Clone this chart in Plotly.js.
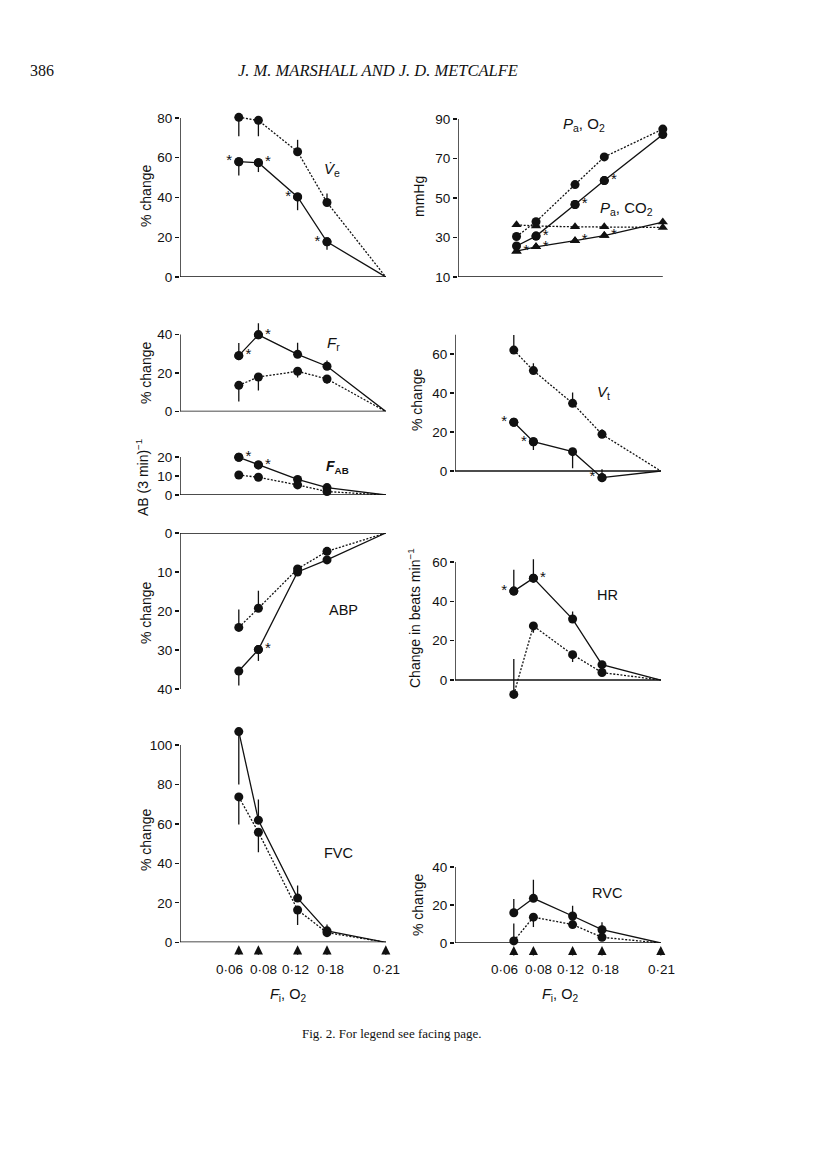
<!DOCTYPE html>
<html><head><meta charset="utf-8">
<script src="https://cdn.plot.ly/plotly-3.0.1.min.js"></script>
<style>body{margin:0;background:#fff}#chart{width:816px;height:1169px}</style>
</head><body><div id="chart"></div>
<script>
// ---------- DATA ----------
const fio2Labels = ['0·06','0·08','0·12','0·18','0·21'];
const fio2Pos = [0.06, 0.08, 0.12, 0.15, 0.21];

// Ve (% change)
const veSolid = [58, 57.5, 40.3, 17.7, 0];
const veSolidErr = [-7, -4.7, -6.7, -4, 0];
const veSolidSig = ['L','R','L','L',''];
const veDotted = [80.3, 78.8, 63, 37.5, 0];
const veDottedErr = [-9.5, -8, 6, 4.5, 0];

// Pa,O2 and Pa,CO2 (mmHg)
const paO2Solid = [25.7, 30.7, 46.7, 58.8, 82.1];
const paO2SolidSig = ['','R','R','R',''];
const paO2Dotted = [30.5, 38, 56.8, 70.8, 84.9];
const paCO2Solid = [23.1, 25.3, 28.4, 31, 37.8];
const paCO2SolidSig = ['R','R','R','R',''];
const paCO2Dotted = [36.4, 35.8, 35.4, 35.4, 35.1];

// Fr (% change)
const frSolid = [29, 39.8, 29.7, 23.5, 0];
const frSolidErr = [6.6, 6, 6, 3, 0];
const frSolidSig = ['R','R','','',''];
const frDotted = [13.6, 17.9, 20.9, 16.9, 0];
const frDottedErr = [-8.4, -7, -3.2, -2.5, 0];

// FAB (AB (3 min)-1)
const fabSolid = [19.8, 15.8, 8.2, 3.9, 0];
const fabSolidSig = ['R','R','','',''];
const fabDotted = [10.5, 9.3, 5.3, 1.8, 0];

// ABP (% change, fall)
const abpSolid = [35.4, 29.9, 10, 6.9, 0];
const abpSolidErr = [3.7, 2.9, 0, 0, 0];
const abpSolidSig = ['','R','','',''];
const abpDotted = [24.2, 19.3, 9.2, 4.7, 0];
const abpDottedErr = [-4.6, -4.5, -1, 0, 0];

// Vt (% change)
const vtSolid = [25, 15, 9.9, -3.4, 0];
const vtSolidErr = [0, -4.2, -8.5, 4.3, 0];
const vtSolidSig = ['L','L','','L',''];
const vtDotted = [62, 51.5, 34.7, 18.8, 0];
const vtDottedErr = [7.7, 3.7, 5.6, 2.6, 0];

// HR (change in beats/min)
const hrSolid = [45.2, 51.8, 31, 7.8, 0];
const hrSolidErr = [10.8, 9.6, 3.8, 0, 0];
const hrSolidSig = ['L','R','','',''];
const hrDotted = [-7.3, 27.5, 12.9, 3.8, 0];
const hrDottedErr = [18, -3.5, -3.7, -1.7, 0];

// FVC (% change)
const fvcSolid = [106.8, 61.9, 22.4, 5.8, 0];
const fvcSolidErr = [-26.8, 10.5, 6.4, 3.2, 0];
const fvcDotted = [73.7, 55.8, 16.4, 4.9, 0];
const fvcDottedErr = [-14, -10.2, -7.6, 0, 0];

// RVC (% change)
const rvcSolid = [15.9, 23.5, 14.2, 7, 0];
const rvcSolidErr = [7.2, 9.8, 5.4, 3.9, 0];
const rvcDotted = [1.1, 13.6, 9.7, 3, 0];
const rvcDottedErr = [9.1, -5.2, 0, 0, 0];

// ---------- LAYOUT HELPERS ----------
const W = 816, H = 1169;
const FONT = 'Liberation Sans, Arial, sans-serif';
const SERIF = 'Liberation Serif, Times New Roman, serif';
const INK = '#111111';
const px = x => x / W;
const py = y => 1 - y / H;
const labelShift = [-9, 5, -2, 3, 1];   // horizontal nudge (px) of the FiO2 labels

const colL = [180, 386], colR = [455, 661];

const panels = [
  {n:1, xPx:colL, yPx:[112,277], range:[0,83], tv:[0,20,40,60,80], axisY:[0,80], xLine:0,
   series:[{y:veSolid, err:veSolidErr, sig:veSolidSig, dash:'solid'},
           {y:veDotted, err:veDottedErr, dash:'dot'}]},
  {n:2, xPx:[458,663], yPx:[119,277], range:[10,90], tv:[10,30,50,70,90], axisY:[10,90], xLine:10,
   series:[{y:paO2Solid, sig:paO2SolidSig, dash:'solid', end:true},
           {y:paO2Dotted, dash:'dot', end:true},
           {y:paCO2Solid, sig:paCO2SolidSig, dash:'solid', end:true, sym:'triangle-up'},
           {y:paCO2Dotted, dash:'dot', end:true, sym:'triangle-up'}]},
  {n:3, xPx:colL, yPx:[321,411.5], range:[0,47], tv:[0,20,40], axisY:[0,40], xLine:0,
   series:[{y:frSolid, err:frSolidErr, sig:frSolidSig, dash:'solid'},
           {y:frDotted, err:frDottedErr, dash:'dot'}]},
  {n:4, xPx:colL, yPx:[455,495], range:[0,21], tv:[0,10,20], axisY:[0,20], xLine:0,
   series:[{y:fabSolid, sig:fabSolidSig, dash:'solid'},
           {y:fabDotted, dash:'dot'}]},
  {n:5, xPx:colL, yPx:[533,689], range:[40,0], tv:[0,10,20,30,40], axisY:[0,40], xLine:0,
   series:[{y:abpSolid, err:abpSolidErr, sig:abpSolidSig, dash:'solid'},
           {y:abpDotted, err:abpDottedErr, dash:'dot'}]},
  {n:6, xPx:colR, yPx:[334.5,480.75], range:[-5,70], tv:[0,20,40,60], axisY:[0,70], xLine:0,
   series:[{y:vtSolid, err:vtSolidErr, sig:vtSolidSig, dash:'solid'},
           {y:vtDotted, err:vtDottedErr, dash:'dot'}]},
  {n:7, xPx:colR, yPx:[556.1,699.7], range:[-10,63], tv:[0,20,40,60], axisY:[0,60], xLine:0,
   series:[{y:hrSolid, err:hrSolidErr, sig:hrSolidSig, dash:'solid'},
           {y:hrDotted, err:hrDottedErr, dash:'dot'}]},
  {n:8, xPx:colL, yPx:[725.3,942.3], range:[0,110], tv:[0,20,40,60,80,100], axisY:[0,100], xLine:0, showX:true,
   series:[{y:fvcSolid, err:fvcSolidErr, dash:'solid'},
           {y:fvcDotted, err:fvcDottedErr, dash:'dot'}]},
  {n:9, xPx:colR, yPx:[867,943], range:[0,40], tv:[0,20,40], axisY:[0,40], xLine:0, showX:true,
   series:[{y:rvcSolid, err:rvcSolidErr, dash:'solid'},
           {y:rvcDotted, err:rvcDottedErr, dash:'dot'}]}
];

const traces = [], shapes = [], annotations = [];
const layout = {
  width: W, height: H, margin:{l:0,r:0,t:0,b:0},
  paper_bgcolor:'#fff', plot_bgcolor:'rgba(0,0,0,0)',
  font:{family:FONT, color:INK, size:13}, showlegend:false
};

panels.forEach(p => {
  const xa = 'x' + p.n, ya = 'y' + p.n;
  const xk = 'xaxis' + p.n, yk = 'yaxis' + p.n;
  layout[xk] = {
    domain:[px(p.xPx[0]), px(p.xPx[1])], range:[0, 0.2102], anchor: ya,
    showline:false, zeroline:false, showgrid:false, ticks:'',
    showticklabels:false, fixedrange:true
  };
  layout[yk] = {
    domain:[py(p.yPx[1]), py(p.yPx[0])], range: p.range, anchor: xa,
    showline:false, zeroline:false, showgrid:false,
    ticks:'outside', ticklen:4, tickwidth:1.3, tickcolor:INK,
    tickvals: p.tv, ticktext: p.tv.map(String),
    tickfont:{family:FONT, size:13.5, color:INK}, fixedrange:true
  };
  shapes.push({type:'line', xref:xa, yref:ya, x0:0, x1:0, y0:p.axisY[0], y1:p.axisY[1],
               line:{color:INK, width:1.4}});
  shapes.push({type:'line', xref:xa, yref:ya, x0:0, x1:0.21, y0:p.xLine, y1:p.xLine,
               line:{color:INK, width:1.4}});
  p.series.forEach(s => {
    const keep = s.y.map((v,i) => i < 4 || !!s.end);
    const msym = s.sym || 'circle';
    const tr = {
      type:'scatter', x: fio2Pos, y: s.y, xaxis: xa, yaxis: ya,
      mode:'lines+markers',
      line:{color:INK, width:1.3, dash: s.dash === 'dot' ? '2px,1.6px' : 'solid'},
      marker:{symbol: msym, color:INK, opacity:1,
              size: keep.map(k => k ? 9 : 0), line:{width:0}},
      cliponaxis:false, hoverinfo:'skip', showlegend:false
    };
    if (s.err) {
      tr.error_y = {type:'data', symmetric:false,
        array: s.err.map(e => Math.max(e,0)),
        arrayminus: s.err.map(e => Math.max(-e,0)),
        width:0, thickness:1.3, color:INK};
    }
    traces.push(tr);
    if (s.sig) {
      const idx = s.sig.map((v,i) => v ? i : -1).filter(i => i >= 0);
      traces.push({
        type:'scatter', xaxis: xa, yaxis: ya, mode:'markers+text',
        x: idx.map(i => fio2Pos[i]), y: idx.map(i => s.y[i]),
        marker:{symbol: msym, color:INK, size:9, opacity:1, line:{width:0}},
        text: idx.map(() => '*'),
        textposition: idx.map(i => s.sig[i] === 'L' ? 'middle left' : 'middle right'),
        textfont:{family:FONT, size:15, color:INK},
        cliponaxis:false, hoverinfo:'skip', showlegend:false
      });
    }
  });
  if (p.showX) {
    fio2Pos.forEach((x, i) => {
      annotations.push({xref:xa, yref:ya, x:x, y:0, text:'', showarrow:true,
        arrowhead:2, arrowsize:1.4, arrowwidth:1.3, arrowcolor:INK,
        ax:0, ay:14, standoff:3});
      annotations.push({xref:xa, yref:'paper', x:x, y:py(969), xshift: labelShift[i],
        text: fio2Labels[i], showarrow:false, xanchor:'center', yanchor:'middle',
        font:{family:FONT, size:13.5, color:INK}});
    });
  }
});

// text helpers
function txt(x, y, text, opts) {
  annotations.push(Object.assign({xref:'paper', yref:'paper', x:px(x), y:py(y), text:text,
    showarrow:false, xanchor:'center', yanchor:'middle',
    font:{family:FONT, size:14, color:INK}}, opts || {}));
}
function ytitle(x, y, text) {
  txt(x, y, text, {textangle:-90, font:{family:FONT, size:14, color:INK}});
}

// Y-axis titles
ytitle(146, 196, '% change');
ytitle(146, 373, '% change');
ytitle(142, 478, 'AB (3 min)<sup>−1</sup>');
ytitle(146, 613, '% change');
ytitle(146, 840, '% change');
ytitle(419, 196, 'mmHg');
ytitle(417, 400, '% change');
ytitle(414, 618, 'Change in beats min<sup>−1</sup>');
ytitle(418, 905, '% change');

// Panel labels
txt(332, 170, '<i>V̇</i><sub>e</sub>', {font:{family:FONT, size:15, color:INK}});
txt(584, 125, '<i>P</i><sub>a</sub>, O<sub>2</sub>', {font:{family:FONT, size:15, color:INK}});
txt(626, 208, '<i>P</i><sub>a</sub>, CO<sub>2</sub>', {font:{family:FONT, size:15, color:INK}});
txt(333, 343, '<i>F</i><sub>r</sub>', {font:{family:FONT, size:15, color:INK}});
txt(337, 467, '<b><i>F</i><sub>AB</sub></b>', {font:{family:FONT, size:14, color:INK}});
txt(603, 392, '<i>V</i><sub>t</sub>', {font:{family:FONT, size:15, color:INK}});
txt(343, 610, 'ABP', {font:{family:FONT, size:14.5, color:INK}});
txt(607, 595, 'HR', {font:{family:FONT, size:14.5, color:INK}});
txt(338, 853, 'FVC', {font:{family:FONT, size:14.5, color:INK}});
txt(607, 893, 'RVC', {font:{family:FONT, size:14.5, color:INK}});

// X-axis titles
txt(288, 995, '<i>F</i><sub>i</sub>, O<sub>2</sub>', {font:{family:FONT, size:14.5, color:INK}});
txt(560, 995, '<i>F</i><sub>i</sub>, O<sub>2</sub>', {font:{family:FONT, size:14.5, color:INK}});

// Header and caption
txt(28, 70, '386', {xanchor:'left', font:{family:SERIF, size:16, color:INK}});
txt(378, 70, '<i>J. M. MARSHALL AND J. D. METCALFE</i>', {font:{family:SERIF, size:16.5, color:INK}});
txt(391, 1033, 'Fig. 2. For legend see facing page.', {font:{family:SERIF, size:13, color:INK}});

layout.shapes = shapes;
layout.annotations = annotations;

Plotly.newPlot('chart', traces, layout, {staticPlot:true, displayModeBar:false});
</script>
</body></html>
